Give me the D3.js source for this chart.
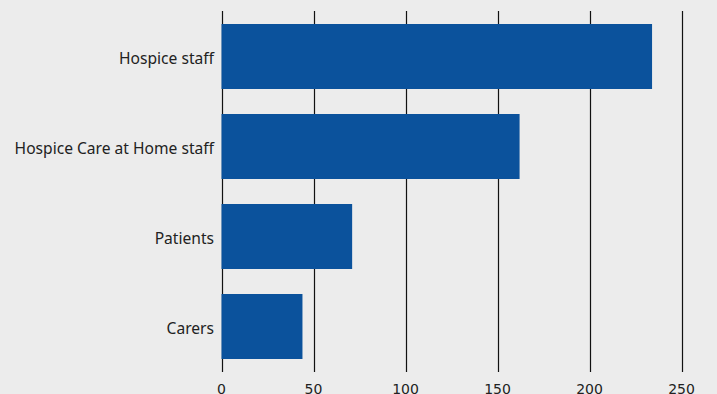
<!DOCTYPE html>
<html>
<head>
<meta charset="utf-8">
<script src="https://cdn.jsdelivr.net/npm/d3@7"></script>
<style>
  html, body { margin: 0; padding: 0; background: #ececec; }
</style>
</head>
<body>
<div id="chart"></div>
<script>
var categories = ["Hospice staff", "Hospice Care at Home staff", "Patients", "Carers"];
var values = [234, 162, 71, 44];
var ticks = [0, 50, 100, 150, 200, 250];

var width = 717,
    height = 394;

var svg = d3.select("#chart").append("svg")
    .attr("width", width)
    .attr("height", height)
    .style("display", "block")
    .style("background", "#ececec");

var x = d3.scaleLinear()
    .domain([0, 250])
    .range([221.5, 681.5]);

// bars 65px tall on a 90px step, first bar at y=24
var y = d3.scaleBand()
    .domain(categories)
    .range([24, 359])
    .paddingInner(0.2778)
    .paddingOuter(0);

// vertical grid lines
svg.append("g")
    .selectAll("line")
    .data(ticks)
    .enter()
    .append("line")
    .attr("x1", function(d) { return Math.round(x(d)) + 0.5; })
    .attr("x2", function(d) { return Math.round(x(d)) + 0.5; })
    .attr("y1", 11)
    .attr("y2", 372)
    .style("stroke", "#111")
    .style("stroke-width", 1.2);

// bars
svg.append("g")
    .selectAll("rect")
    .data(values)
    .enter()
    .append("rect")
    .attr("x", x(0))
    .attr("y", function(d, i) { return y(categories[i]); })
    .attr("width", function(d) { return x(d) - x(0); })
    .attr("height", y.bandwidth())
    .style("fill", "#0b529c");

// category labels
svg.append("g")
    .selectAll("text")
    .data(categories)
    .enter()
    .append("text")
    .attr("x", 214)
    .attr("y", function(d) { return y(d) + y.bandwidth() / 2 + 2; })
    .attr("dy", "0.35em")
    .style("text-anchor", "end")
    .style("font", "15.6px 'Noto Sans', sans-serif")
    .style("fill", "#222")
    .text(function(d) { return d; });

// x tick labels (bottom edge clipped, as in the original)
svg.append("g")
    .selectAll("text")
    .data(ticks)
    .enter()
    .append("text")
    .attr("x", function(d) { return x(d); })
    .attr("y", 394)
    .style("text-anchor", "middle")
    .style("font", "14px 'DejaVu Sans', sans-serif")
    .style("fill", "#222")
    .text(function(d) { return d; });
</script>
</body>
</html>
